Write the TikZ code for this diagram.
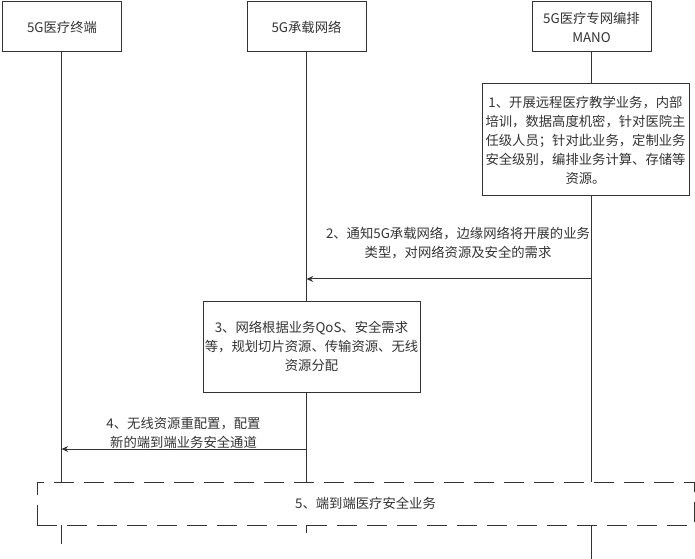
\documentclass[tikz,border=0pt]{standalone}
\usepackage{fontspec}
\setmainfont{Noto Sans CJK SC}
\usetikzlibrary{arrows.meta}
\definecolor{ink}{HTML}{333333}
\begin{document}
\begin{tikzpicture}[x=0.75pt,y=-0.75pt,
  txt/.style={font=\fontsize{10}{14.25}\selectfont, text=ink, align=center},
  box/.style={txt, draw=ink, fill=white, line width=0.75pt, inner sep=0pt},
  head/.style={box, minimum width=119*0.75pt, minimum height=50*0.75pt},
  life/.style={draw=ink, line width=0.75pt},
  msg/.style={draw=ink, line width=0.75pt, -{Stealth[length=5pt,width=4.5pt]}},
  lbl/.style={txt, inner sep=0pt},
  region/.style={txt, draw=ink, fill=white, line width=0.75pt, dash pattern=on 15pt off 7.5pt, inner sep=0pt}]
\useasboundingbox (0,0) rectangle (695,559);
% heads
\node[head] (A) at (62,27) {5G医疗终端};
\node[head] (B) at (306.5,27) {5G承载网络};
\node[head] (C) at (591.5,27) {5G医疗专网编排\\MANO};
% lifeline ends
\coordinate (Aend) at (61.5,544);
\coordinate (Bend) at (306.5,533);
\coordinate (Cend) at (591.5,559);
\draw[life] (A.south -| Aend) -- (Aend);
\draw[life] (B.south) -- (Bend);
\draw[life] (C.south) -- (Cend);
% step 1
\node[box, minimum width=207*0.75pt, minimum height=112*0.75pt] (S1) at (585.5,140)
  {1、开展远程医疗教学业务，内部\\培训，数据高度机密，针对医院主\\任级人员；针对此业务，定制业务\\安全级别，编排业务计算、存储等\\资源。};
% step 2
\coordinate (c2) at (591.5,279);
\coordinate (b2) at (306.5,279);
\draw[msg] (c2) -- (b2);
\node[lbl] (L2) at (458,243.5) {2、通知5G承载网络，边缘网络将开展的业务\\类型，对网络资源及安全的需求};
% step 3
\node[box, minimum width=217*0.75pt, minimum height=91*0.75pt] (S3) at (311.5,346.5)
  {3、网络根据业务QoS、安全需求\\等，规划切片资源、传输资源、无线\\资源分配};
% step 4
\coordinate (b4) at (306.5,449);
\coordinate (a4) at (61.5,449);
\draw[msg] (b4) -- (a4);
\node[lbl] (L4) at (183.5,433) {4、无线资源重配置，配置\\新的端到端业务安全通道};
% step 5
\node[region, minimum width=657*0.75pt, minimum height=43*0.75pt] (S5) at (365.5,503.5) {5、端到端医疗安全业务};
\end{tikzpicture}
\end{document}
